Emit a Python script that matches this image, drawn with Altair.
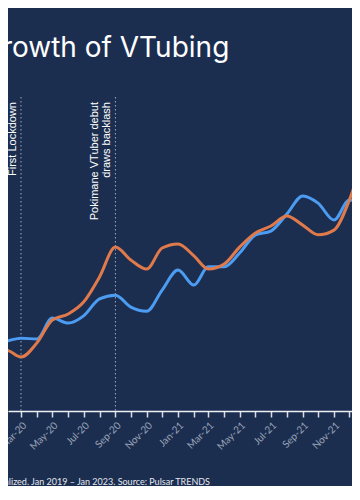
import altair as alt
import pandas as pd

# Monthly values (normalized index)
months = ["2020-01-01", "2020-02-01", "2020-03-01", "2020-04-01", "2020-05-01",
          "2020-06-01", "2020-07-01", "2020-08-01", "2020-09-01", "2020-10-01",
          "2020-11-01", "2020-12-01", "2021-01-01", "2021-02-01", "2021-03-01",
          "2021-04-01", "2021-05-01", "2021-06-01", "2021-07-01", "2021-08-01",
          "2021-09-01", "2021-10-01", "2021-11-01", "2021-12-01", "2022-01-01"]
blue_vals = [22.0, 22.3, 23.2, 22.9, 29.6, 28.0, 30.3, 35.7, 36.9, 33.1,
             31.8, 38.5, 44.9, 40.1, 45.9, 45.9, 50.3, 56.1, 57.3, 62.7,
             68.5, 66.2, 60.8, 67.2, 65.6]
orange_vals = [17.5, 19.4, 17.2, 21.7, 29.0, 30.9, 34.7, 42.7, 52.2, 48.1,
               45.2, 51.9, 53.2, 49.4, 45.2, 46.8, 52.2, 56.7, 58.9, 62.1,
               59.2, 56.1, 57.6, 67.2, 83.1]
series_names = ["VTuber", "VTubing"]
series_colors = ["#4c9cf1", "#e07a4b"]

event_dates = ["2020-03-01", "2020-09-01"]
event_lines = [["First Lockdown"], ["Pokimane VTuber debut", "draws backlash"]]

title_text = "Growth of VTubing"
note_text = "Data normalized. Jan 2019 – Jan 2023. Source: Pulsar TRENDS"

bg = "#1c2e50"

df = pd.DataFrame({
    "date": months * 2,
    "value": blue_vals + orange_vals,
    "series": [series_names[0]] * len(months) + [series_names[1]] * len(months),
})
ev_df = pd.DataFrame({"date": event_dates})

tick_values = [int(v) for v in (pd.to_datetime(months, utc=True).astype("int64") // 10**6)]

x_scale = alt.Scale(
    type="utc",
    domain=[alt.DateTime(year=2020, month=2, date=4, hours=16, utc=True),
            alt.DateTime(year=2021, month=12, date=6, hours=2, utc=True)],
)
y_scale = alt.Scale(domain=[0, 100])

x_axis = alt.Axis(
    values=tick_values,
    tickCount=100,
    labelExpr="utcmonth(datum.value) % 2 == 0 ? utcFormat(datum.value, '%b-%y') : ''",
    labelAngle=315,
    labelFont="Lato",
    labelFontSize=10,
    labelColor="#9aa4b8",
    labelPadding=3,
    tickColor="#d8dce4",
    tickSize=6,
    tickWidth=1.5,
    domainColor="#eef0f4",
    domainWidth=1.5,
    grid=False,
    title=None,
    labelOverlap=False,
)

lines = alt.Chart(df).mark_line(
    strokeWidth=3, interpolate="monotone", clip=True
).encode(
    x=alt.X("date:T", scale=x_scale, axis=x_axis),
    y=alt.Y("value:Q", scale=y_scale, axis=None),
    color=alt.Color("series:N", scale=alt.Scale(domain=series_names, range=series_colors), legend=None),
)

rules = alt.Chart(ev_df).mark_rule(
    color="#9aa7bf", strokeDash=[1.5, 2.5], strokeWidth=1
).encode(
    x=alt.X("date:T", scale=x_scale),
)

# Annotation texts (dy works in the rotated frame: negative = left on screen)
ev_layers = []
for d, lns in zip(event_dates, event_lines):
    n = len(lns)
    for i, t in enumerate(lns):
        sub = pd.DataFrame({"date": [d], "text": [t]})
        ev_layers.append(
            alt.Chart(sub).mark_text(
                angle=270, align="right", baseline="middle", font="Liberation Sans",
                fontSize=11, color="#ffffff", dy=-8 - 12 * (n - 1 - i)
            ).encode(
                x=alt.X("date:T", scale=x_scale),
                y=alt.value(5),
                text="text:N",
            )
        )

title = alt.Chart(pd.DataFrame({"t": [title_text]})).mark_text(
    align="left", baseline="alphabetic", font="Inter", fontSize=28, color="#ffffff"
).encode(x=alt.value(-27), y=alt.value(-40), text="t:N")

note = alt.Chart(pd.DataFrame({"t": [note_text]})).mark_text(
    align="right", baseline="alphabetic", font="Lato", fontSize=9, color="#e3e7ef"
).encode(x=alt.value(202), y=alt.value(388), text="t:N")

chart = alt.layer(rules, lines, *ev_layers, title, note).properties(
    width=344,
    height=314,
    padding={"left": 0, "top": 89, "right": 0, "bottom": 75},
    autosize=alt.AutoSizeParams(type="none"),
    background=bg,
).configure_view(stroke=None).configure_axis(labelOverlap=False)

chart.save("out.html", embed_options={"renderer": "svg", "actions": False})
